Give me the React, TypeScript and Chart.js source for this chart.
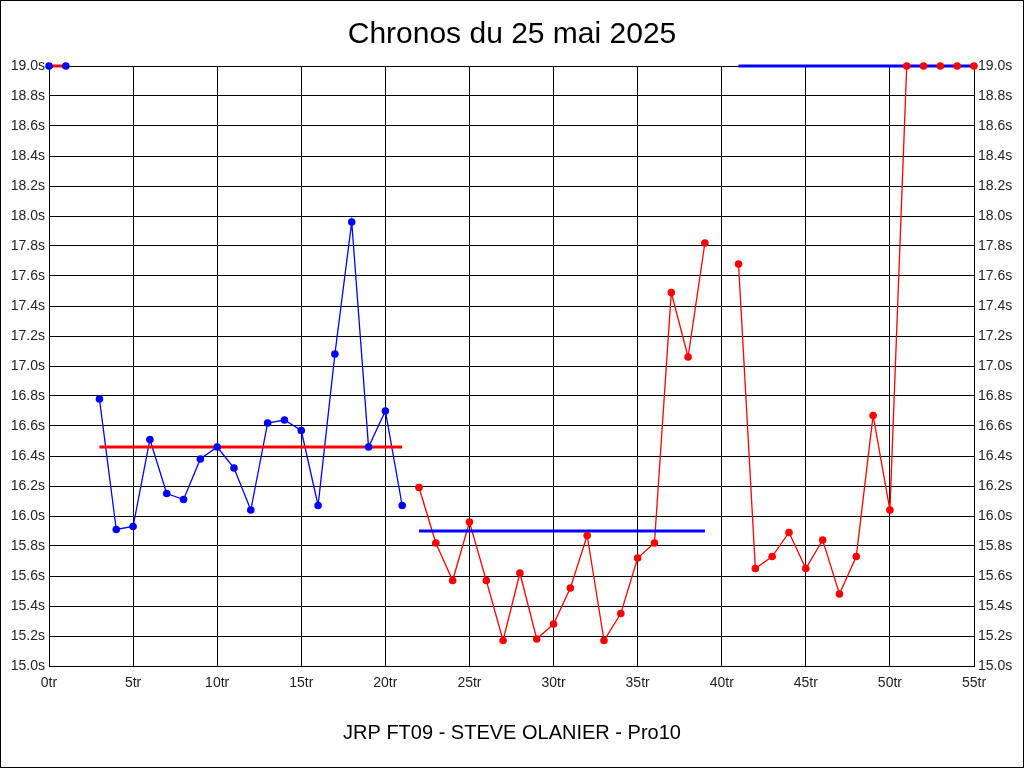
import React, { useEffect, useRef } from "react";
import { Chart, registerables } from "chart.js";

Chart.register(...registerables);

const titleText = "Chronos du 25 mai 2025";
const footerText = "JRP FT09 - STEVE OLANIER - Pro10";

const blueLaps = [0, 1, 2, 3, 4, 5, 6, 7, 8, 9, 10, 11, 12, 13, 14, 15, 16, 17, 18, 19, 20, 21];
const blueTimes: (number | null)[] = [
  19.0, 19.0, null, 16.78, 15.91, 15.93, 16.51, 16.15, 16.11, 16.38, 16.46, 16.32, 16.04,
  16.62, 16.64, 16.57, 16.07, 17.08, 17.96, 16.46, 16.7, 16.07,
];

const redLaps = [
  22, 23, 24, 25, 26, 27, 28, 29, 30, 31, 32, 33, 34, 35, 36, 37, 38, 39, 40, 41, 42, 43, 44,
  45, 46, 47, 48, 49, 50, 51, 52, 53, 54, 55,
];
const redTimes: (number | null)[] = [
  16.19, 15.82, 15.57, 15.96, 15.57, 15.17, 15.62, 15.18, 15.28, 15.52, 15.87, 15.17, 15.35,
  15.72, 15.82, 17.49, 17.06, 17.82, null, 17.68, 15.65, 15.73, 15.89, 15.65, 15.84, 15.48,
  15.73, 16.67, 16.04, 19.0, 19.0, 19.0, 19.0, 19.0,
];

const avgStart = [0, 3, 22, 41];
const avgEnd = [1, 21, 39, 55];
const avgValue = [19.0, 16.46, 15.9, 19.0];
const avgSeries = ["red", "red", "blue", "blue"];

const xTicks = [0, 5, 10, 15, 20, 25, 30, 35, 40, 45, 50, 55];
const yMin = 15.0;
const yMax = 19.0;

const BLUE = "#0000ff";
const RED = "#ff0000";

export default function App() {
  const ref = useRef<HTMLCanvasElement | null>(null);

  useEffect(() => {
    document.body.style.margin = "0";
    const canvas = ref.current;
    if (!canvas) return;

    const toPts = (xs: number[], ys: (number | null)[]) => xs.map((x, i) => ({ x, y: ys[i] }));

    const avgDatasets = avgStart.map((s, i) => ({
      label: "avg" + i,
      data: [
        { x: s, y: avgValue[i] },
        { x: avgEnd[i], y: avgValue[i] },
      ],
      borderColor: avgSeries[i] === "red" ? RED : BLUE,
      borderWidth: 3,
      pointRadius: 0,
      showLine: true,
      clip: false as any,
      order: 5,
    }));

    const borderPlugin = {
      id: "frame",
      afterDraw(chart: any) {
        const ctx = chart.ctx;
        ctx.save();
        ctx.strokeStyle = "#000";
        ctx.lineWidth = 1;
        ctx.strokeRect(0.5, 0.5, 1023, 767);
        ctx.fillStyle = "#000";
        ctx.textAlign = "center";
        ctx.textBaseline = "middle";
        ctx.font = "30px 'Liberation Sans', Arial, sans-serif";
        ctx.fillText(titleText, 512, 35);
        ctx.font = "20px 'Liberation Sans', Arial, sans-serif";
        ctx.fillText(footerText, 512, 733);
        ctx.restore();
      },
    };

    const tickFont = { family: "'Liberation Sans', Arial, sans-serif", size: 14 };

    const chart = new Chart(canvas, {
      type: "scatter",
      data: {
        datasets: [
          {
            label: "blueLine",
            data: toPts(blueLaps, blueTimes),
            borderColor: BLUE,
            borderWidth: 1.3,
            pointRadius: 0,
            showLine: true,
            spanGaps: false,
            clip: false as any,
            order: 10,
          },
          {
            label: "redLine",
            data: toPts(redLaps, redTimes),
            borderColor: RED,
            borderWidth: 1.3,
            pointRadius: 0,
            showLine: true,
            spanGaps: false,
            clip: false as any,
            order: 10,
          },
          ...avgDatasets,
          {
            label: "bluePts",
            data: toPts(blueLaps, blueTimes),
            backgroundColor: BLUE,
            borderColor: BLUE,
            pointRadius: 3.8,
            borderWidth: 0,
            showLine: false,
            clip: false as any,
            order: 1,
          },
          {
            label: "redPts",
            data: toPts(redLaps, redTimes),
            backgroundColor: RED,
            borderColor: RED,
            pointRadius: 3.8,
            borderWidth: 0,
            showLine: false,
            clip: false as any,
            order: 1,
          },
        ],
      },
      options: {
        responsive: false,
        animation: false,
        layout: { padding: { top: 66, left: 0, right: 0, bottom: 0 } },
        plugins: {
          legend: { display: false },
          title: { display: false },
          tooltip: { enabled: false },
        },
        scales: {
          x: {
            type: "linear",
            min: 0,
            max: 55,
            afterFit(scale: any) {
              scale.height = 102;
            },
            afterBuildTicks(scale: any) {
              scale.ticks = xTicks.map((v) => ({ value: v }));
            },
            ticks: {
              stepSize: 5,
              padding: 9,
              color: "#222",
              font: tickFont,
              maxRotation: 0,
              autoSkip: false,
              callback: (v: any) => v + "tr",
            },
            grid: { color: "#000", lineWidth: 1, drawTicks: false },
            border: { color: "#000", width: 1 },
          },
          y: {
            type: "linear",
            position: "left",
            min: yMin,
            max: yMax,
            afterFit(scale: any) {
              scale.width = 49;
            },
            ticks: {
              stepSize: 0.2,
              padding: 4,
              color: "#222",
              font: tickFont,
              callback: (v: any) => Number(v).toFixed(1) + "s",
            },
            grid: { color: "#000", lineWidth: 1, drawTicks: false },
            border: { color: "#000", width: 1 },
          },
          y2: {
            type: "linear",
            position: "right",
            min: yMin,
            max: yMax,
            afterFit(scale: any) {
              scale.width = 50;
            },
            ticks: {
              stepSize: 0.2,
              padding: 4,
              color: "#222",
              font: tickFont,
              callback: (v: any) => Number(v).toFixed(1) + "s",
            },
            grid: { display: false, drawTicks: false },
            border: { color: "#000", width: 1 },
          },
        },
      } as any,
      plugins: [borderPlugin],
    });

    return () => chart.destroy();
  }, []);

  return (
    <div style={{ width: 1024, height: 768, background: "#fff" }}>
      <canvas ref={ref} width={1024} height={768} style={{ display: "block" }} />
    </div>
  );
}
